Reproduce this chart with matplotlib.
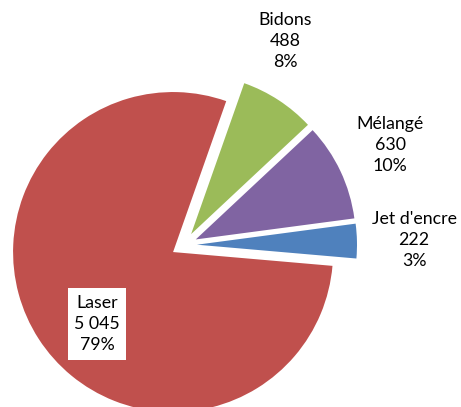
import matplotlib.pyplot as plt

# Donnees
categories = ["Bidons", "Mélangé", "Jet d'encre", "Laser"]
valeurs = [488, 630, 222, 5045]
couleurs = ["#9BBB59", "#8064A2", "#4F81BD", "#C0504D"]

# position des etiquettes (pixels)
pos_labels = {
    "Bidons": (285, 366),
    "Mélangé": (390, 262),
    "Jet d'encre": (414, 167),
    "Laser": (97, 83),
}

plt.rcParams['font.family'] = ['Lato', 'DejaVu Sans']

fig = plt.figure(figsize=(4.61, 4.07), dpi=100)
ax = fig.add_axes([0, 0, 1, 1])
ax.set_aspect('equal')
ax.axis('off')

total = sum(valeurs)
ax.pie(valeurs, colors=couleurs, startangle=70.6, counterclock=False,
       radius=160, center=(184, 162), explode=[13] * len(valeurs),
       wedgeprops=dict(linewidth=0))
ax.set_xlim(0, 461)
ax.set_ylim(0, 407)

def fmt(v):
    return f"{v:,}".replace(",", " ")

for cat, v in zip(categories, valeurs):
    pct = round(100 * v / total)
    txt = f"{cat}\n{fmt(v)}\n{pct}%"
    x, y = pos_labels[cat]
    box = None
    if cat == "Laser":
        box = dict(boxstyle='square,pad=0.35', facecolor='white', edgecolor='none')
    ax.text(x, y, txt, ha='center', va='center', fontsize=12.8,
            linespacing=1.42, color='black', bbox=box)

fig.savefig('out.png', dpi=100)
